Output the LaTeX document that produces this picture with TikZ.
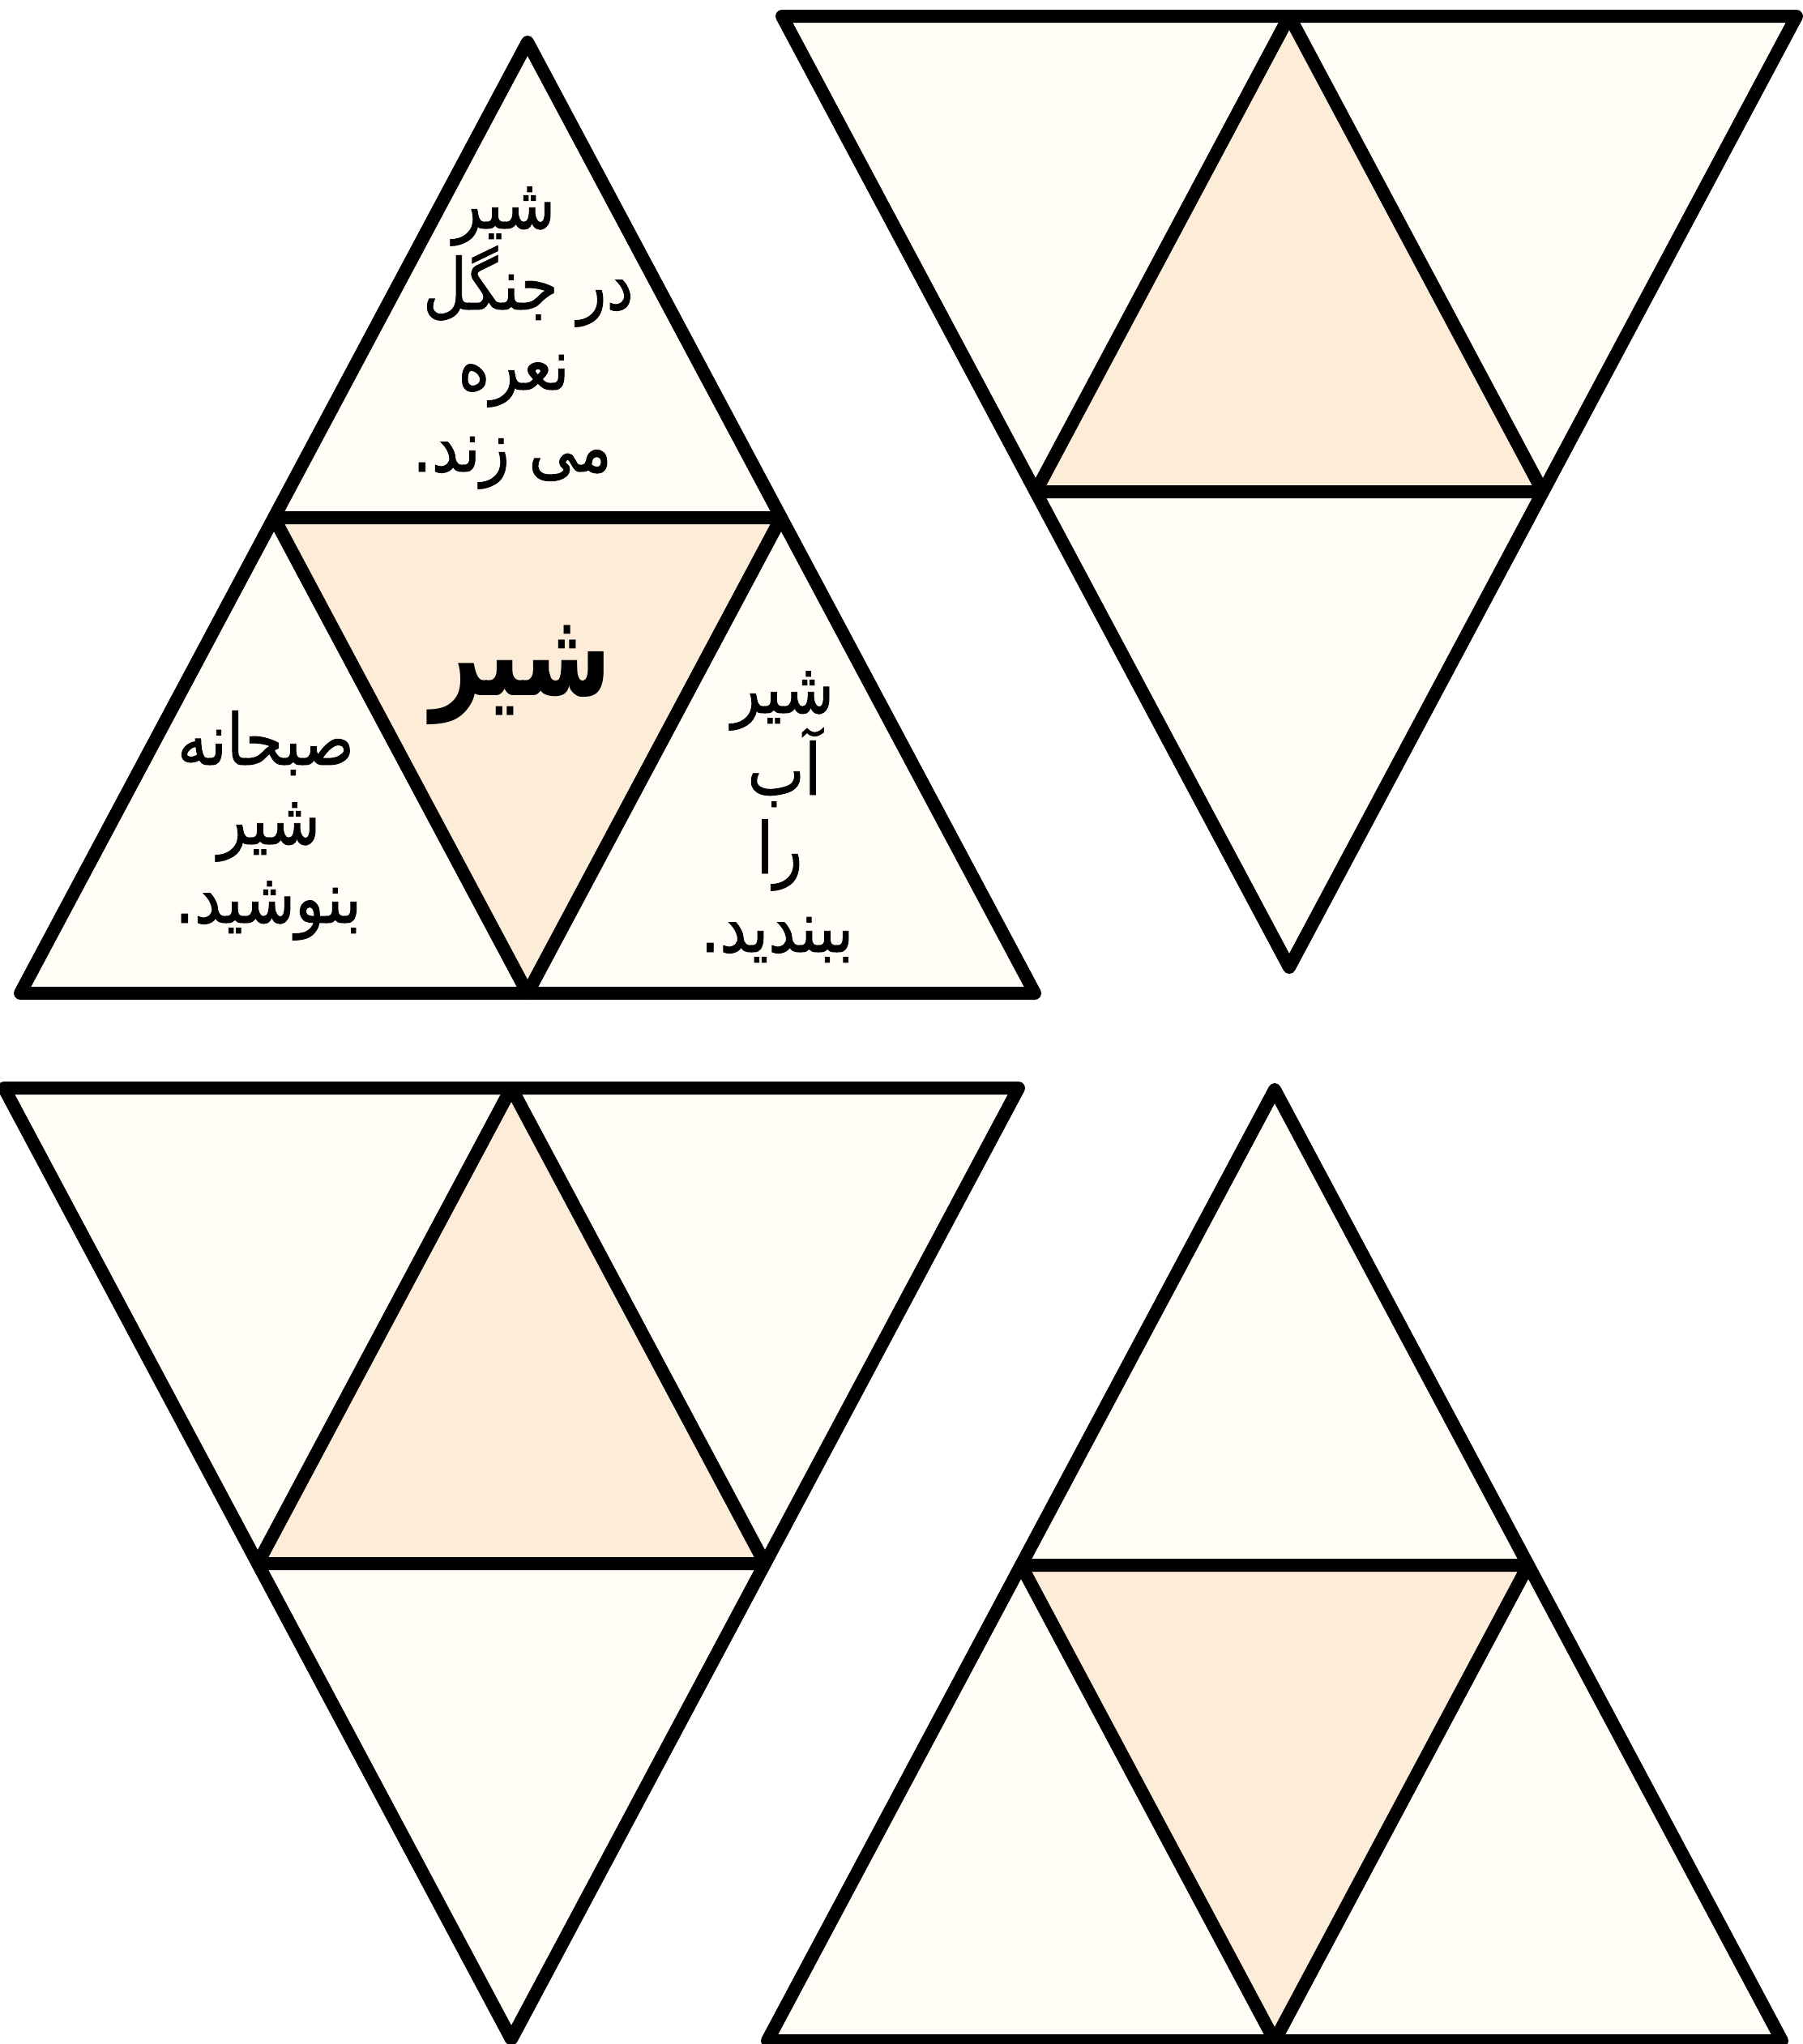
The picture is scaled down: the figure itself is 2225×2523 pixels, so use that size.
\documentclass[tikz,border=0pt]{standalone}
\usepackage{fontspec}
\TeXXeTstate=1
\newfontfamily\arabicfont[Script=Arabic, FakeStretch=0.85, FakeBold=1]{DejaVu Sans}
\newfontfamily\arabicbig[Script=Arabic, FakeStretch=0.75]{DejaVu Sans}
\definecolor{cream}{RGB}{255,253,246}
\definecolor{peach}{RGB}{253,236,216}
\begin{document}
\begin{tikzpicture}[x=0.01cm,y=-0.01cm,
  edge/.style={line width=0.16cm, line join=round, line cap=round},
  lbl/.style={font=\arabicfont\fontsize{25}{30}\selectfont, anchor=base, inner sep=0pt},
  bigl/.style={font=\arabicbig\bfseries\fontsize{42}{50}\selectfont, anchor=base, inner sep=0pt},
  uptri/.pic={
    \fill[cream] (0,0) -- (-626,1174) -- (626,1174) -- cycle;
    \fill[peach] (-313,587) -- (313,587) -- (0,1174) -- cycle;
    \draw[edge] (0,0) -- (-626,1174) -- (626,1174) -- cycle;
    \draw[edge] (-313,587) -- (313,587) -- (0,1174) -- cycle;
  },
  downtri/.pic={
    \fill[cream] (-626,0) -- (626,0) -- (0,1174) -- cycle;
    \fill[peach] (-313,587) -- (313,587) -- (0,0) -- cycle;
    \draw[edge] (-626,0) -- (626,0) -- (0,1174) -- cycle;
    \draw[edge] (-313,587) -- (313,587) -- (0,0) -- cycle;
  }]
\useasboundingbox (0,0) rectangle (2225,2523);
\fill[white] (0,0) rectangle (2225,2523);
\pic at (651,52) {uptri};
\pic at (1591,20) {downtri};
\pic at (631,1343) {downtri};
\pic at (1573,1345) {uptri};
% texts of the top-left figure
\node[lbl] (a1) at (622,282) {\beginR شیر\endR};
\node[lbl] (a2) at (652,382) {\beginR در جنگل\endR};
\node[lbl] (a3) at (634,481) {\beginR نعره\endR};
\node[lbl] (a4) at (632,582) {\beginR می زند.\endR};
\node[bigl] (c1) at (643,858) {\beginR شیر\endR};
\node[lbl] (l1) at (328,944) {\beginR صبحانه\endR};
\node[lbl] (l2) at (332,1042) {\beginR شیر\endR};
\node[lbl] (l3) at (331,1139) {\beginR بنوشید.\endR};
\node[lbl] (r1) at (966,880) {\beginR شیر\endR};
\node[lbl] (r2) at (968,981) {\beginR آب\endR};
\node[lbl] (r3) at (962,1078) {\beginR را\endR};
\node[lbl] (r4) at (959,1175) {\beginR ببندید.\endR};
\end{tikzpicture}
\end{document}
